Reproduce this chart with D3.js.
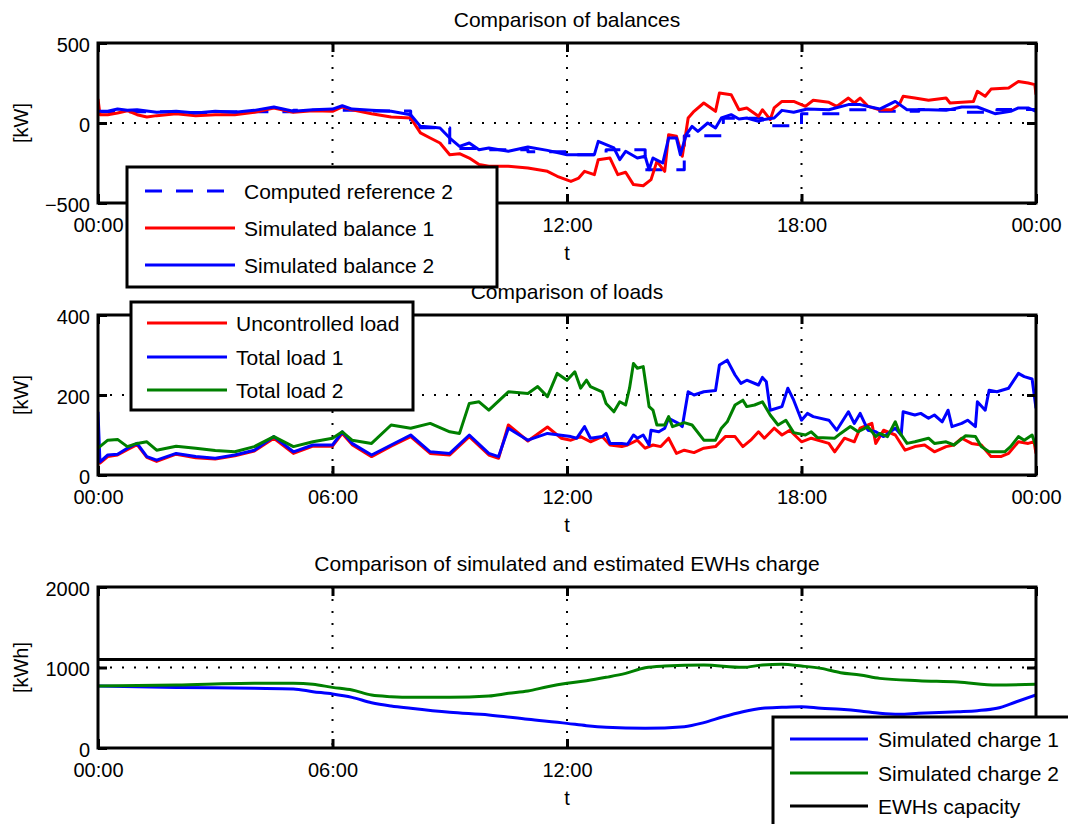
<!DOCTYPE html>
<html>
<head>
<meta charset="utf-8">
<script src="https://cdn.jsdelivr.net/npm/d3@7"></script>
<style>
  html, body { margin: 0; padding: 0; background: #fff; }
  svg { display: block; font-family: "Liberation Sans", Arial, Helvetica, sans-serif; }
</style>
</head>
<body>
<svg id="chart" width="1068" height="824"></svg>
<script>
// ---------- DATA (time in hours) ----------
const xTicks = [0, 6, 12, 18, 24];
const xTickLabels = ["00:00", "06:00", "12:00", "18:00", "00:00"];

// Panel 1: balances [kW]
const balanceTicks = [-500, 0, 500];
const balanceTickLabels = ["\u2212500", "0", "500"];
const refHours = [0,1,2,3,4,5,6,7,8,9,10,11,12,13,14,15,16,17,18,19,20,21,22,23,24];
const refValues = [70,70,65,70,70,80,80,75,-30,-160,-167,-180,-198,-167,-292,-79,30,-17,58,83,73,85,67,85,85];

const bal1Times = [0,0.05,0.25,0.5,0.75,1,1.25,1.5,2,2.5,3,3.5,4,4.5,5,5.5,6,6.25,6.5,7,7.5,8,8.25,8.5,8.75,9,9.25,9.5,9.75,10,10.5,11,11.5,11.75,12.1,12.3,12.45,12.7,12.8,13.1,13.3,13.5,13.7,13.95,14.15,14.3,14.5,14.6,14.8,14.95,15.1,15.25,15.5,15.8,15.9,16.2,16.4,16.6,16.9,17.0,17.2,17.3,17.5,17.8,18.1,18.3,18.7,18.9,19.2,19.35,19.5,19.7,20.0,20.3,20.5,20.6,20.9,21.25,21.7,21.8,22.4,22.5,22.7,22.85,23.3,23.55,23.8,23.97,24];
const bal1Values = [150,52,52,62,77,52,37,46,58,46,52,52,67,94,67,77,73,100,83,58,37,31,-62,-94,-125,-198,-192,-219,-260,-270,-271,-281,-302,-333,-365,-344,-302,-323,-229,-219,-323,-308,-385,-392,-354,-240,-302,-73,-83,-208,31,73,125,73,187,177,83,94,42,83,21,94,135,135,104,142,129,104,156,125,156,104,83,83,115,167,156,142,156,125,135,198,167,212,219,260,250,240,177];

const bal2Times = [0,0.25,0.5,0.75,1,1.5,2,2.5,3,3.5,4,4.5,5,5.5,6,6.25,6.5,7,7.5,8,8.25,8.5,8.75,9,9.25,9.5,9.75,10,10.5,11,11.5,12,12.45,12.7,12.8,13.0,13.2,13.35,13.5,13.8,14.0,14.1,14.2,14.45,14.6,14.8,14.9,15.05,15.2,15.35,15.6,15.8,15.95,16.2,16.4,16.6,16.9,17.0,17.3,17.5,17.8,18.15,18.7,19.2,19.5,20.0,20.4,20.7,21.25,21.7,22.1,22.5,22.95,23.35,23.55,23.8,24];
const bal2Values = [73,73,87,79,83,67,73,62,73,67,79,100,73,83,87,108,87,79,73,52,-21,-25,-31,-94,-146,-125,-167,-156,-177,-150,-171,-198,-198,-198,-115,-135,-156,-229,-177,-219,-208,-292,-219,-250,-94,-94,-198,-73,-21,-52,0,-31,31,52,25,31,10,21,31,79,67,87,83,115,115,87,135,83,83,79,100,100,58,73,94,94,73];

// Panel 2: loads [kW]
const loadTicks = [0, 200, 400];
const loadTickLabels = ["0", "200", "400"];
const uncTimes = [0,0.05,0.25,0.5,0.75,1,1.25,1.5,2,2.5,3,3.5,4,4.5,5,5.5,6,6.25,6.5,7,7.5,8,8.5,9,9.5,10,10.25,10.5,11,11.5,11.85,12.1,12.35,12.6,12.9,13.1,13.4,13.55,13.8,14.0,14.2,14.4,14.6,14.8,15.0,15.25,15.5,15.8,16.05,16.3,16.5,16.7,16.9,17.05,17.3,17.5,17.7,18.0,18.25,18.7,18.85,19.1,19.35,19.5,19.8,19.9,20.1,20.4,20.65,20.9,21.15,21.4,21.7,21.9,22.1,22.35,22.6,22.85,23.1,23.3,23.55,23.8,23.95,24];
const uncValues = [60,30,46,50,63,76,44,34,52,43,40,48,60,92,54,72,72,104,76,46,72,96,54,50,96,50,42,125,85,120,92,87,96,83,96,75,71,75,87,67,75,71,92,54,62,56,67,71,96,96,71,87,108,92,117,100,112,83,92,79,58,92,83,117,129,79,112,100,62,71,75,58,71,75,92,79,75,46,46,54,83,79,83,54];

const tl1Times = [0,0.05,0.25,0.5,0.75,1,1.25,1.5,2,2.5,3,3.5,4,4.5,5,5.5,6,6.25,6.5,7,7.5,8,8.5,9,9.5,10,10.25,10.5,11,11.5,12.1,12.25,12.45,12.6,12.9,13.0,13.1,13.4,13.55,13.7,13.8,13.95,14.1,14.15,14.35,14.5,14.6,14.85,14.95,15.1,15.25,15.5,15.8,15.9,16.1,16.3,16.45,16.6,16.9,17.0,17.1,17.2,17.5,17.65,17.8,18.0,18.15,18.3,18.7,18.9,19.2,19.35,19.5,19.7,19.9,20.1,20.4,20.55,20.6,20.9,21.05,21.25,21.4,21.6,21.75,21.85,22.1,22.25,22.45,22.5,22.7,22.8,23.0,23.3,23.55,23.7,23.9,24];
const tl1Values = [158,33,50,52,67,79,46,37,54,46,42,50,62,96,58,75,75,108,79,50,75,100,58,54,100,54,46,117,87,104,96,92,121,92,96,104,79,79,77,100,92,100,75,112,108,117,142,129,121,208,200,208,211,275,287,250,229,237,225,244,233,162,171,217,187,137,154,146,137,112,158,129,154,112,108,96,117,100,158,150,154,142,150,133,162,121,129,137,121,183,162,212,208,217,254,246,240,167];

const tl2Times = [0,0.25,0.5,0.75,1,1.25,1.5,1.75,2,2.5,3,3.5,4,4.5,5,5.5,6,6.25,6.5,7,7.5,8,8.5,9,9.25,9.5,9.75,10,10.5,11,11.25,11.5,11.75,12.0,12.2,12.35,12.5,12.6,12.9,13.0,13.2,13.35,13.5,13.6,13.7,13.8,13.95,14.1,14.2,14.3,14.5,14.6,14.7,15.0,15.2,15.5,15.8,15.95,16.1,16.3,16.5,16.6,16.8,17.0,17.2,17.4,17.6,17.8,18.1,18.25,18.4,18.85,19.0,19.25,19.45,19.7,19.9,20.0,20.2,20.4,20.5,20.7,20.9,21.25,21.4,21.7,21.9,22.2,22.45,22.6,22.8,23.2,23.35,23.55,23.7,23.9,24];
const tl2Values = [67,87,89,71,79,83,62,67,72,67,61,58,71,96,71,83,92,108,87,79,125,117,129,108,104,179,183,162,208,204,221,196,254,237,258,217,237,221,208,179,158,183,175,217,279,267,271,171,162,125,125,146,121,131,125,87,87,117,133,175,187,171,175,183,150,125,137,106,100,108,94,92,104,121,108,121,96,104,96,133,108,79,83,92,79,83,75,98,96,71,58,58,71,96,87,100,71];

// Panel 3: charge [kWh]
const chargeTicks = [0, 1000, 2000];
const chargeTickLabels = ["0", "1000", "2000"];
const ch1Times = [0,2,4,5,5.5,6,6.5,7,7.5,8,9,10,11,12,12.5,13,14,15,15.5,16,16.5,17,17.5,18,18.5,19,19.5,20,20.5,21,22,22.5,23,23.5,24];
const ch1Values = [770,753,741,733,700,671,629,563,522,493,443,410,356,306,277,257,244,265,315,389,451,493,505,513,493,480,460,431,418,431,451,464,493,575,658];
const ch2Times = [0,2,4,5,5.5,6,6.5,7,7.5,8,9,10,10.5,11,11.5,12,12.5,13,13.5,14,14.5,15.5,16.5,17,17.5,18,18.5,19,19.5,20,21,22,23,24];
const ch2Values = [770,782,803,803,791,753,720,658,638,629,629,646,679,708,762,805,836,878,927,998,1018,1031,1002,1031,1039,1018,989,936,907,865,836,820,782,791];
const capacityTimes = [0, 24];
const capacityValues = [1100, 1100];

// ---------- DRAWING ----------
const svg = d3.select("#chart");
const FONT = 20;
const TITLE_FONT = 21;
const x = d3.scaleLinear().domain([0, 24]).range([98, 1036]);

const panels = [
  { id: "p1", top: 43, bottom: 203, domain: [-500, 500], ticks: balanceTicks, labels: balanceTickLabels,
    title: "Comparison of balances", ylabel: "[kW]",
    series: [
      { t: refHours, v: refValues, color: "#0000ff", dash: "17,14", curve: d3.curveStepAfter, name: "Computed reference 2" },
      { t: bal1Times, v: bal1Values, color: "#ff0000", name: "Simulated balance 1" },
      { t: bal2Times, v: bal2Values, color: "#0000ff", name: "Simulated balance 2" }
    ],
    legend: { x: 127, y: 167, w: 370, h: 120, rows: [191, 228, 265], lx1: 145, lx2: 235, tx: 244 } },
  { id: "p2", top: 315, bottom: 475, domain: [0, 400], ticks: loadTicks, labels: loadTickLabels,
    title: "Comparison of loads", ylabel: "[kW]",
    series: [
      { t: uncTimes, v: uncValues, color: "#ff0000", name: "Uncontrolled load" },
      { t: tl1Times, v: tl1Values, color: "#0000ff", name: "Total load 1" },
      { t: tl2Times, v: tl2Values, color: "#008000", name: "Total load 2" }
    ],
    legend: { x: 131, y: 302, w: 282, h: 108, rows: [323, 357, 390], lx1: 147, lx2: 227, tx: 236 } },
  { id: "p3", top: 587, bottom: 748, domain: [0, 2000], ticks: chargeTicks, labels: chargeTickLabels,
    title: "Comparison of simulated and estimated EWHs charge", ylabel: "[kWh]",
    series: [
      { t: ch1Times, v: ch1Values, color: "#0000ff", curve: d3.curveMonotoneX, name: "Simulated charge 1" },
      { t: ch2Times, v: ch2Values, color: "#008000", curve: d3.curveMonotoneX, name: "Simulated charge 2" },
      { t: capacityTimes, v: capacityValues, color: "#000000", name: "EWHs capacity" }
    ],
    legend: { x: 773, y: 717, w: 330, h: 130, rows: [739, 773, 806], lx1: 790, lx2: 868, tx: 878 } }
];

const defs = svg.append("defs");

panels.forEach(p => {
  const y = d3.scaleLinear().domain(p.domain).range([p.bottom, p.top]);
  const g = svg.append("g");
  const x0 = x.range()[0], x1 = x.range()[1];

  defs.append("clipPath").attr("id", "clip-" + p.id)
    .append("rect").attr("x", x0).attr("y", p.top).attr("width", x1 - x0).attr("height", p.bottom - p.top);

  // grid (dotted)
  g.selectAll(".vgrid").data(xTicks).join("line")
    .attr("x1", d => x(d)).attr("x2", d => x(d)).attr("y1", p.top).attr("y2", p.bottom)
    .attr("stroke", "#000").attr("stroke-width", 2).attr("stroke-dasharray", "2,10");
  g.selectAll(".hgrid").data(p.ticks).join("line")
    .attr("x1", x0).attr("x2", x1).attr("y1", d => y(d)).attr("y2", d => y(d))
    .attr("stroke", "#000").attr("stroke-width", 2).attr("stroke-dasharray", "2,10");

  // series
  const sg = g.append("g").attr("clip-path", "url(#clip-" + p.id + ")");
  p.series.forEach(s => {
    const pts = d3.zip(s.t, s.v);
    const line = d3.line().x(d => x(d[0])).y(d => y(d[1])).curve(s.curve || d3.curveLinear);
    sg.append("path").attr("d", line(pts))
      .attr("fill", "none").attr("stroke", s.color).attr("stroke-width", 3)
      .attr("stroke-linejoin", "round")
      .attr("stroke-dasharray", s.dash || null);
  });

  // axes with inward ticks
  const styleAxis = sel => {
    sel.select(".domain").remove();
    sel.selectAll(".tick line").attr("stroke", "#000").attr("stroke-width", 3);
    sel.selectAll(".tick text").attr("fill", "#000").attr("font-size", FONT).attr("font-family", null);
  };
  g.append("g").attr("transform", `translate(0,${p.bottom})`)
    .call(d3.axisBottom(x).tickValues(xTicks).tickFormat((d, i) => xTickLabels[i]).tickSizeInner(-9).tickSizeOuter(0).tickPadding(15))
    .call(styleAxis);
  g.append("g").attr("transform", `translate(0,${p.top})`)
    .call(d3.axisTop(x).tickValues(xTicks).tickFormat("").tickSizeInner(-9).tickSizeOuter(0))
    .call(styleAxis);
  g.append("g").attr("transform", `translate(${x0},0)`)
    .call(d3.axisLeft(y).tickValues(p.ticks).tickFormat((d, i) => p.labels[i]).tickSizeInner(-9).tickSizeOuter(0).tickPadding(8))
    .call(styleAxis)
    .selectAll(".tick text").attr("dy", "0.42em");
  g.append("g").attr("transform", `translate(${x1},0)`)
    .call(d3.axisRight(y).tickValues(p.ticks).tickFormat("").tickSizeInner(-9).tickSizeOuter(0))
    .call(styleAxis);

  // box
  g.append("rect").attr("x", x0).attr("y", p.top).attr("width", x1 - x0).attr("height", p.bottom - p.top)
    .attr("fill", "none").attr("stroke", "#000").attr("stroke-width", 3);

  // title, xlabel, ylabel
  const cx = (x0 + x1) / 2;
  g.append("text").attr("x", cx).attr("y", p.top - 16).attr("text-anchor", "middle")
    .attr("font-size", TITLE_FONT).text(p.title);
  g.append("text").attr("x", cx).attr("y", p.bottom + 57).attr("text-anchor", "middle")
    .attr("font-size", FONT).text("t");
  g.append("text").attr("transform", `translate(28,${(p.top + p.bottom) / 2}) rotate(-90)`)
    .attr("text-anchor", "middle").attr("font-size", FONT).text(p.ylabel);
});

// legends on top of everything (they cover parts of the axes as in the original)
panels.forEach(p => {
  const L = p.legend;
  const lg = svg.append("g");
  lg.append("rect").attr("x", L.x).attr("y", L.y).attr("width", L.w).attr("height", L.h)
    .attr("fill", "#fff").attr("stroke", "#000").attr("stroke-width", 3);
  p.series.forEach((s, i) => {
    lg.append("line").attr("x1", L.lx1).attr("x2", L.lx2).attr("y1", L.rows[i]).attr("y2", L.rows[i])
      .attr("stroke", s.color).attr("stroke-width", 3).attr("stroke-dasharray", s.dash || null);
    lg.append("text").attr("x", L.tx).attr("y", L.rows[i]).attr("dy", "0.36em")
      .attr("font-size", 21).attr("fill", "#000").text(s.name);
  });
});
</script>
</body>
</html>
